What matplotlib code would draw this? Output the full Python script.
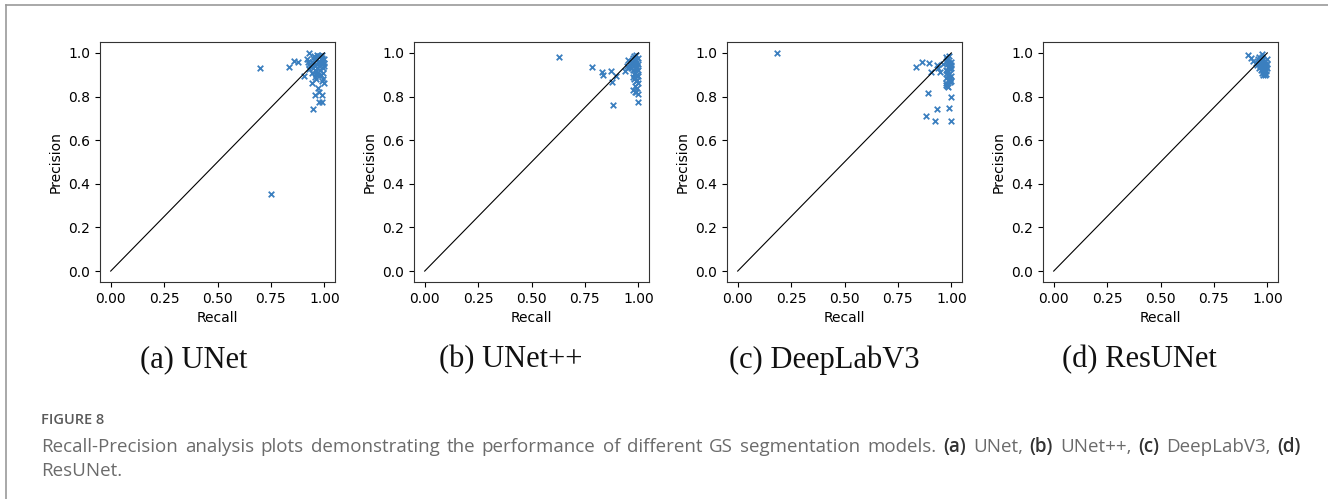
import matplotlib.pyplot as plt
from matplotlib.lines import Line2D

W, H = 1328, 499

# recall / precision per model
unet_recall = [0.70, 0.75, 0.835, 0.86, 0.875, 0.905, 0.93, 0.94, 0.945, 0.955,
               0.975, 0.975, 0.99, 0.988, 0.96, 0.955, 0.995, 0.998, 0.97, 0.92,
               0.93, 0.94, 0.945, 0.95, 0.955, 0.96, 0.965, 0.97, 0.975, 0.98,
               0.985, 0.99, 0.995, 1.0, 0.98, 0.985, 0.99, 1.0, 0.995, 0.94,
               0.93, 0.96, 0.97, 0.99, 1.0, 0.985, 0.945, 0.925, 0.965, 0.95,
               0.98, 0.99, 0.96, 0.935, 0.975]
unet_precision = [0.93, 0.355, 0.937, 0.965, 0.957, 0.895, 0.998, 0.86, 0.742, 0.808,
                  0.823, 0.773, 0.773, 0.805, 0.88, 0.89, 0.88, 0.86, 0.84, 0.97,
                  0.95, 0.96, 0.93, 0.985, 0.97, 0.95, 0.99, 0.96, 0.94, 0.985,
                  0.97, 0.95, 0.93, 0.97, 0.92, 0.90, 0.99, 0.94, 0.91, 0.91,
                  0.925, 0.915, 0.90, 0.87, 0.955, 0.955, 0.975, 0.96, 0.93, 0.945,
                  0.96, 0.975, 0.905, 0.94, 0.985]

unetpp_recall = [0.628, 0.785, 0.829, 0.835, 0.87, 0.875, 0.895, 0.882, 0.937, 0.953,
                 0.96, 0.997, 0.977, 0.985, 1.0, 0.95, 0.945, 0.97, 0.975, 0.98,
                 0.985, 0.99, 0.995, 1.0, 0.98, 0.99, 1.0, 0.985, 0.995, 0.975,
                 0.98, 0.99, 1.0, 0.985, 0.995, 0.98, 0.99, 1.0, 0.975, 0.985,
                 0.995, 0.98, 0.99, 1.0, 0.97, 0.965, 0.99, 0.995]
unetpp_precision = [0.98, 0.937, 0.911, 0.898, 0.919, 0.866, 0.896, 0.759, 0.919, 0.968,
                    0.945, 0.774, 0.83, 0.82, 0.81, 0.93, 0.94, 0.96, 0.975, 0.985,
                    0.97, 0.99, 0.96, 0.95, 0.94, 0.93, 0.92, 0.91, 0.90, 0.89,
                    0.88, 0.87, 0.86, 0.85, 0.84, 0.955, 0.945, 0.975, 0.92, 0.965,
                    0.935, 0.905, 0.915, 0.895, 0.95, 0.93, 0.82, 0.875]

deeplab_recall = [0.186, 0.837, 0.865, 0.895, 0.906, 0.931, 0.947, 0.892, 0.881, 0.923,
                  0.934, 0.991, 1.0, 1.0, 0.974, 0.985, 0.975, 0.98, 0.985, 0.99,
                  0.995, 1.0, 0.975, 0.98, 0.985, 0.99, 0.995, 1.0, 0.975, 0.98,
                  0.99, 1.0, 0.985, 0.995, 0.98, 0.99, 1.0, 0.975, 0.985, 0.995,
                  0.96, 0.94, 0.99, 1.0, 0.98]
deeplab_precision = [1.0, 0.937, 0.96, 0.952, 0.911, 0.946, 0.911, 0.817, 0.712, 0.69,
                     0.744, 0.749, 0.689, 0.80, 0.855, 0.845, 0.98, 0.97, 0.96, 0.95,
                     0.94, 0.93, 0.92, 0.91, 0.90, 0.89, 0.88, 0.87, 0.86, 0.965,
                     0.955, 0.945, 0.935, 0.925, 0.915, 0.905, 0.895, 0.885, 0.875, 0.865,
                     0.95, 0.93, 0.985, 0.96, 0.85]

resunet_recall = [0.911, 0.925, 0.934, 0.945, 0.974, 0.955, 0.96, 0.965, 0.97, 0.975,
                  0.98, 0.985, 0.99, 0.995, 1.0, 0.96, 0.97, 0.98, 0.99, 1.0,
                  0.965, 0.975, 0.985, 0.995, 0.97, 0.98, 0.99, 1.0, 0.975, 0.985,
                  0.995, 0.98, 0.99, 0.95, 0.96]
resunet_precision = [0.99, 0.975, 0.962, 0.955, 0.995, 0.97, 0.96, 0.95, 0.94, 0.98,
                     0.97, 0.96, 0.95, 0.94, 0.97, 0.93, 0.92, 0.93, 0.92, 0.93,
                     0.94, 0.91, 0.91, 0.905, 0.96, 0.945, 0.965, 0.95, 0.935, 0.925,
                     0.915, 0.9, 0.9, 0.945, 0.98]

panels = [
    (unet_recall, unet_precision, '(a) UNet'),
    (unetpp_recall, unetpp_precision, '(b) UNet++'),
    (deeplab_recall, deeplab_precision, '(c) DeepLabV3'),
    (resunet_recall, resunet_precision, '(d) ResUNet'),
]
x_ticks = [0.0, 0.25, 0.5, 0.75, 1.0]
y_ticks = [0.0, 0.2, 0.4, 0.6, 0.8, 1.0]

ax_lefts = [100, 414, 727, 1043]   # pixel positions of the axes
label_cx = [194, 511, 824, 1139]   # pixel centres of the sub-captions

fig = plt.figure(figsize=(W / 100, H / 100), dpi=100)

for (rec, prec, name), left, cx in zip(panels, ax_lefts, label_cx):
    ax = fig.add_axes([left / W, (H - 282) / H, 235 / W, 240 / H])
    ax.scatter(rec, prec, marker='x', s=16, color='#3b7fbf', linewidths=1.3, zorder=2)
    ax.plot([0, 1], [0, 1], color='black', lw=0.8, zorder=3)
    ax.set_xlim(-0.05, 1.05)
    ax.set_ylim(-0.05, 1.05)
    ax.set_xticks(x_ticks)
    ax.set_yticks(y_ticks)
    ax.set_xlabel('Recall', fontsize=10)
    ax.set_ylabel('Precision', fontsize=10)
    ax.tick_params(labelsize=10)
    for sp in ax.spines.values():
        sp.set_color('#333333')
    fig.text(cx / W, 1 - 360 / H, name, family='Liberation Serif', fontsize=22,
             ha='center', va='center', color='#111111')

# page frame (left and top rules)
fig.add_artist(Line2D([6 / W, 6 / W], [0, 1 - 5 / H], color='#999999', lw=1.2))
fig.add_artist(Line2D([6 / W, 1], [1 - 5 / H, 1 - 5 / H], color='#999999', lw=1.2))

# figure caption
cap_font = ['Open Sans', 'DejaVu Sans']
x0, x1 = 41, 1301
fig.text(x0 / W, 1 - 420 / H, 'FIGURE 8', family=cap_font, fontsize=10.5,
         fontweight='semibold', color='#5a5a5a', va='center')

line1 = ('Recall-Precision analysis plots demonstrating the performance of different '
         'GS segmentation models. (a) UNet, (b) UNet++, (c) DeepLabV3, (d)')
line2 = 'ResUNet.'

words = line1.split(' ')
texts = []
for w in words:
    bold = w in ('(a)', '(b)', '(c)', '(d)')
    t = fig.text(0, 1 - 447 / H, w, family=cap_font, fontsize=13.5,
                 color='#333333' if bold else '#6b6b6b',
                 fontweight='semibold' if bold else 'normal', va='center')
    texts.append(t)
fig.text(x0 / W, 1 - 471 / H, line2, family=cap_font, fontsize=13.5,
         color='#6b6b6b', va='center')

# justify the first caption line between x0 and x1
fig.canvas.draw()
renderer = fig.canvas.get_renderer()
widths = [t.get_window_extent(renderer).width for t in texts]
gap = (x1 - x0 - sum(widths)) / (len(texts) - 1)
x = float(x0)
for t, wd in zip(texts, widths):
    t.set_x(x / W)
    x += wd + gap

fig.savefig('out.png', dpi=100)
